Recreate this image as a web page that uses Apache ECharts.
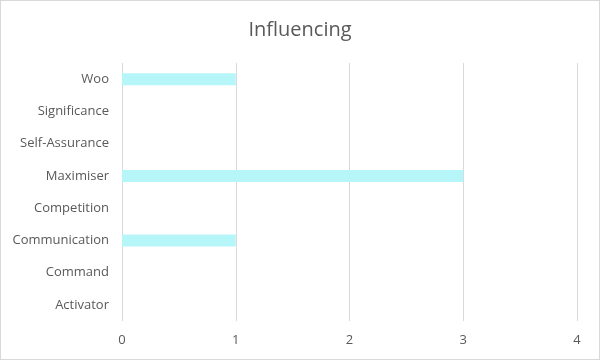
<!DOCTYPE html>
<html><head><meta charset="utf-8">
<script src="https://cdn.jsdelivr.net/npm/echarts@6/dist/echarts.min.js"></script>
<style>html,body{margin:0;padding:0;background:#fff}#c{width:598px;height:358px;border:1px solid #d9d9d9}</style>
</head><body><div id="c"></div>
<script>
var categories = ["Activator","Command","Communication","Competition","Maximiser","Self-Assurance","Significance","Woo"];
var values = [0,0,1,0,3,0,0,1];
var xTicks = {min:0,max:4,interval:1};
var chart = echarts.init(document.getElementById('c'));
chart.setOption({
  animation:false,
  title:{text:"Influencing",left:'center',top:14,textStyle:{fontFamily:"Open Sans",fontWeight:'normal',fontSize:20,color:'#595959'}},
  grid:{left:121,right:22,top:62,bottom:38},
  xAxis:{type:'value',min:xTicks.min,max:xTicks.max,interval:xTicks.interval,
    axisLine:{show:false},axisTick:{show:false},
    splitLine:{lineStyle:{color:'#d9d9d9',width:1}},
    axisLabel:{margin:13,fontFamily:"Open Sans",fontSize:13,color:'#595959'}},
  yAxis:{type:'category',data:categories,axisLine:{show:false},axisTick:{show:false},
    axisLabel:{margin:13,fontFamily:"Open Sans",fontSize:13,color:'#595959'}},
  series:[{type:'bar',data:values,barWidth:12,itemStyle:{color:'#b6f6f9'}}]
});
</script></body></html>
